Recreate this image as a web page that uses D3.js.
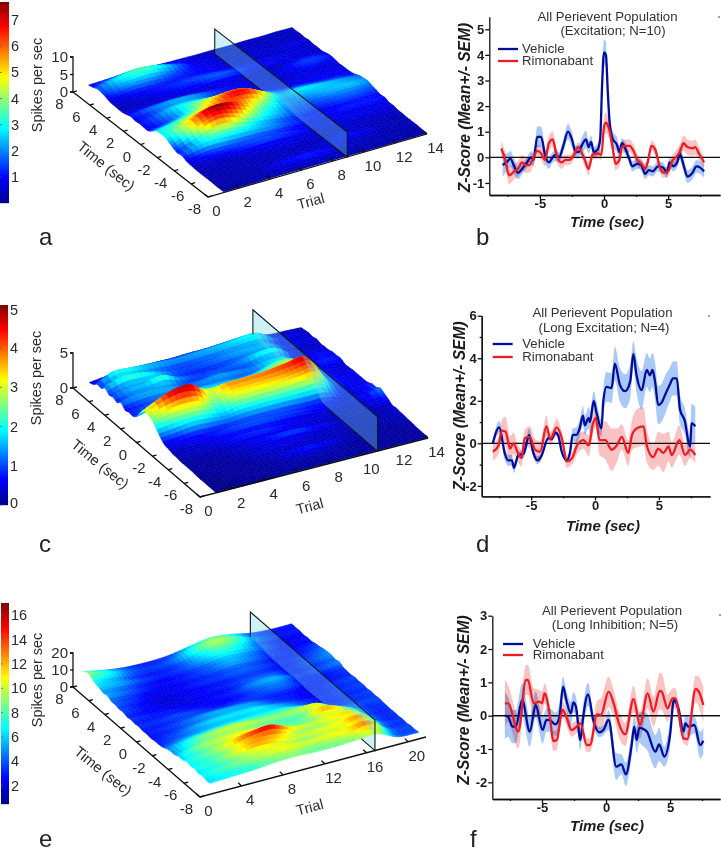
<!DOCTYPE html>
<html><head><meta charset="utf-8">
<style>html,body{margin:0;padding:0;background:#fff}svg{display:block}text{font-family:"Liberation Sans",Arial,sans-serif}</style>
<script src="https://cdn.jsdelivr.net/npm/d3@7"></script>
</head><body>
<script>
// ---------- data ----------
const surfaceTimes = [8,7.5,7,6.5,6,5.5,5,4.5,4,3.5,3,2.5,2,1.5,1,.5,0,-.5,-1,-1.5,-2,-2.5,-3,-3.5,-4,-4.5,-5,-5.5,-6,-6.5,-7,-7.5,-8];
const trialsAC = [1,2,3,4,5,6,7,8,9,10,11,12,13,14];
const trialsE = [1,3,5,7,9,11,13,15,17,19,21];
const ratesA = [
[.7,.8,.9,.9,.8,.7,.6,.5,.5,.4,.5,.4,.5,.4],
[1.0,1.8,2.4,2.6,2.0,1.2,.7,.5,.4,.4,.4,.4,.4,.4],
[1.5,2.6,3.3,3.6,3.0,1.9,.9,.7,.5,.5,.5,.5,.5,.5],
[1.4,2.2,2.6,2.7,2.2,1.5,.9,.7,.5,.4,.5,.4,.5,.4],
[1.1,1.6,1.9,1.8,1.5,1.2,1.0,.8,.6,.6,.7,.7,.8,.6],
[.6,.8,1.0,1.1,1.1,1.1,1.0,.8,.6,.5,.5,.5,.6,.4],
[.5,.6,.8,1.1,1.3,1.5,1.5,1.3,1.0,.9,.9,.8,.7,.5],
[.4,.5,.6,.8,1.0,1.1,1.6,1.6,1.2,.9,.8,.6,.5,.4],
[.4,.5,.5,.6,.6,.6,.7,.7,.6,.5,.5,.9,1.0,.7],
[.7,1.0,1.2,1.3,1.1,.9,.8,.7,.5,.5,.7,1.3,1.4,1.0],
[1.1,1.7,2.1,2.3,2.1,1.5,1.1,.9,.7,.6,.8,1.1,1.2,.9],
[.8,1.3,1.9,2.2,2.0,1.4,1.0,.8,.6,.5,.6,.7,.7,.6],
[1.0,1.6,2.6,2.9,2.7,2.0,1.4,1.0,.8,.7,.7,.8,.8,.7],
[.9,1.5,2.2,3.4,3.8,3.4,2.6,1.7,1.0,.8,.8,.8,.8,.7],
[.8,1.3,2.2,3.6,4.8,5.3,5.0,3.0,1.6,1.3,1.2,1.0,1.0,.8],
[1.6,2.2,3.0,4.2,5.4,6.4,6.0,3.9,2.1,2.1,1.9,1.6,1.4,1.1],
[2.6,3.2,4.0,4.8,5.8,6.8,6.5,4.5,2.4,2.8,2.7,2.4,2.1,1.7],
[2.8,3.6,5.0,6.0,6.2,6.0,5.0,3.4,2.0,2.3,2.4,2.4,2.2,1.9],
[2.8,4.0,6.0,7.5,7.3,5.8,4.0,3.0,2.0,1.8,2.2,2.4,2.5,2.1],
[2.2,3.8,5.8,7.0,6.4,4.8,3.2,2.4,1.6,1.4,1.6,1.8,1.8,1.6],
[1.5,3.0,5.0,6.0,5.0,3.6,2.8,2.2,1.4,1.2,1.3,1.5,1.5,1.3],
[1.0,2.2,3.4,3.8,3.4,2.6,2.0,1.4,1.0,.8,.9,1.0,1.0,.9],
[1.3,2.5,3.0,2.8,2.6,2.4,2.0,1.5,1.1,.9,1.1,1.2,1.2,1.1],
[.8,1.4,1.7,1.6,1.5,1.4,1.2,.9,.7,.6,.7,.7,.7,.6],
[.5,.8,1.0,1.3,1.5,1.6,1.4,1.1,.9,.8,.8,.8,.8,.7],
[.4,.5,.5,.6,.7,.8,.7,.6,.5,.5,.5,.5,.5,.4],
[.3,.4,.4,.5,.6,.7,.7,.6,.6,.5,.5,.5,.4,.4],
[.3,.3,.3,.4,.4,.4,.4,.4,.5,.6,.5,.4,.3,.3],
[.3,.3,.4,.4,.4,.5,.5,.5,.9,1.0,.8,.5,.4,.3],
[.3,.3,.3,.3,.5,.6,.7,.6,.5,.5,.4,.3,.3,.3],
[.2,.3,.3,.4,.8,1.1,1.2,1.0,.6,.5,.4,.3,.3,.3],
[.2,.2,.3,.3,.4,.5,.5,.4,.3,.3,.3,.3,.2,.2],
[.2,.2,.2,.3,.3,.3,.3,.3,.3,.2,.2,.2,.2,.2]];
const ratesC = [
[.2,.4,.4,.5,.6,.6,.7,.7,.8,.9,.9,.4,.3,.2],
[.4,1.2,1.3,1.3,1.2,1.1,1.2,1.3,1.5,1.7,1.7,.5,.4,.3],
[.9,2.1,2.0,1.7,1.5,1.4,1.5,1.6,1.7,1.9,1.9,.8,.5,.4],
[.8,1.6,1.6,1.3,1.0,.9,1.0,1.1,1.3,1.4,1.4,.5,.4,.3],
[1.3,2.2,2.2,1.8,1.2,1.0,1.1,1.3,1.5,1.6,1.6,.7,.5,.5],
[.8,1.3,1.4,1.6,1.0,.8,.8,.9,1.1,1.4,1.4,.4,.3,.3],
[1.0,1.6,1.7,2.3,1.4,1.0,1.0,1.1,1.4,2.0,2.0,.6,.4,.4],
[.7,1.2,1.3,1.4,1.0,.9,1.1,1.0,1.0,1.4,1.4,.4,.5,.4],
[1.2,1.5,1.6,1.5,1.2,1.3,1.5,1.4,1.3,1.7,1.7,.5,.7,.6],
[.6,.9,1.1,1.4,1.2,1.2,1.2,1.1,1.2,1.8,1.8,.5,.7,.6],
[.8,1.0,1.4,2.0,1.7,1.6,1.6,1.5,1.8,2.5,2.4,.8,.8,.7],
[.7,1.2,1.9,2.4,1.9,1.8,1.8,1.9,2.2,2.6,2.7,.7,.5,.4],
[1.2,1.8,2.8,3.2,2.6,2.3,2.4,2.6,2.9,3.2,3.4,1.2,.5,.4],
[2.3,3.3,4.2,4.4,3.0,3.2,3.3,3.4,3.6,3.9,4.1,1.3,.5,.5],
[2.9,4.1,4.8,4.6,2.8,3.7,3.8,3.9,4.1,4.4,4.6,1.3,.6,.5],
[2.7,3.5,3.9,3.7,2.5,3.3,3.4,3.5,3.6,3.9,4.0,1.2,.6,.5],
[2.4,2.8,3.0,2.9,2.1,2.9,3.0,3.1,3.2,3.4,3.5,1.1,.6,.5],
[1.7,2.0,2.2,2.1,1.7,2.1,2.2,2.3,2.3,2.4,2.4,.8,.5,.6],
[1.0,1.2,1.5,1.4,1.3,1.5,1.6,1.6,1.6,1.5,1.5,.7,.5,.9],
[.5,.6,.7,.7,.8,.9,.9,.9,.8,.7,.7,.4,.4,.9],
[.4,.5,.6,.8,1.0,1.1,1.1,1.0,.9,.7,.6,.4,.6,1.3],
[.2,.3,.4,.5,.6,.6,.6,.5,.4,.4,.3,.3,.4,1.0],
[.2,.3,.4,.6,.8,.9,.8,.6,.5,.4,.3,.3,.4,.7],
[.1,.2,.2,.3,.4,.5,.5,.5,.4,.3,.2,.2,.2,.3],
[.1,.1,.2,.3,.5,.7,1.0,1.0,.7,.5,.3,.2,.2,.4],
[.1,.1,.1,.2,.3,.4,.4,.4,.3,.3,.2,.2,.2,.3],
[.1,.1,.1,.2,.4,.5,.5,.4,.3,.3,.2,.2,.2,.3],
[0,.1,.1,.1,.2,.3,.3,.3,.3,.2,.1,.1,.1,.2],
[0,.1,.1,.1,.2,.4,.7,.8,.5,.3,.2,.1,.1,.2],
[0,0,.1,.1,.1,.2,.3,.3,.2,.1,.1,.1,.1,.1],
[0,0,.1,.1,.1,.2,.2,.2,.2,.1,.1,.1,.1,.1],
[0,0,0,.1,.1,.1,.1,.1,.1,.1,.1,.1,.1,.1],
[0,0,0,0,.1,.1,.1,.1,.1,.1,.1,.1,.1,.1]];
const ratesE = [
[7.5,5,3.5,3,3.5,5.5,7.5,6.5,4,3,3],
[9,6.5,4,3.2,4,7,9,7.5,4,2.8,2.8],
[8,6.5,4,3.5,4.5,7.5,9.5,8,4.5,3,3],
[6.5,5,3.2,2.8,3.5,6,8,6.5,3.5,2.3,2.5],
[6,5.5,3.8,3.2,3.8,5.5,7,6,3.8,2.5,3],
[5,4,2.8,2.4,3,4,5.5,4.5,3,2.2,2.8],
[5.5,4.2,3,2.8,3.2,4.2,5.5,4.6,3,2.8,3.5],
[4.2,3.2,2.2,2.2,2.8,3.2,4,3.5,2.5,2.8,3.8],
[4.2,3.2,2.2,2.6,3.2,3.6,4.2,3.8,2.8,3.2,4.5],
[3.6,2.6,1.8,2,2.5,2.8,3.4,3.2,2.5,3.4,4.8],
[3.8,2.8,2,2.3,2.8,3.2,3.8,3.8,2.8,3.8,5],
[3,2.5,2.2,2,2.4,2.8,4.2,4.4,2.6,3.2,4.2],
[3.4,3,2.8,2.4,2.8,3.3,5,5.5,3.2,3.8,5],
[3,2.8,3,2.6,2.4,2.8,4,4.5,2.5,2.8,3.6],
[3.3,3.4,3.8,3.3,2.8,3.2,3.8,4.2,2.8,2.8,3.4],
[2.8,3,3.5,3.8,3.8,3.6,3,2.8,2.2,2.8,3.2],
[3,3.4,4.4,5.4,5.4,5,3.4,2.9,2.4,3.3,3.8],
[2.6,3.2,4.2,5,5.4,5.2,3.8,2.8,2.3,3,3.4],
[3,3.8,5.4,6.4,6.5,6.5,5,3.4,2.8,3.3,3.8],
[3,4,5,5.6,5.8,6.2,5.5,3.8,2.6,3,3.2],
[3.4,5,6,6.8,7,7,7,5,2.8,3.3,3.8],
[4.5,6.5,7.8,8.5,8.2,8,8.2,7.5,3.5,3.2,3.4],
[5,7.6,9.4,10,9.6,9,9.6,10.5,5,3.8,3.8],
[5,7.5,8.8,9.2,8.5,7.8,8,10.5,6.5,3.5,3.4],
[6,9,10,10.5,10,8.5,8.5,12.5,9,3.8,3.3],
[6,7.8,9.5,11.5,11.5,8.8,8.5,10,9,3.5,3.2],
[7,8.5,11,14,15.5,11.2,10,11,11,4,3.4],
[6.5,7.5,9.5,12,12,9.5,9,10,10.5,3.8,3.2],
[7,8,10.5,12.8,11.5,10,10.5,11,12.5,4.5,3.5],
[6.2,7.2,8.8,10,9.8,9,9.5,10,11,4,3.2],
[6.8,8,9,10.2,11,10.2,10.8,11.5,13,4.6,3.8],
[6,6.8,7.5,8.5,9,8.5,8.8,9.5,10.5,4.2,3.6],
[6.5,7,7.5,8.5,9,8.5,8.5,9,9.5,4.5,4]];

const timeVehicleB = [-7.9,-7.6,-7.3,-7.0,-6.7,-6.3,-6.0,-5.7,-5.5,-5.2,-4.9,-4.6,-4.3,-4.0,-3.8,-3.5,-3.2,-2.8,-2.5,-2.2,-2.0,-1.7,-1.4,-1.2,-1.0,-0.8,-0.5,-0.3,-0.15,0,0.15,0.3,0.45,0.7,1.0,1.2,1.4,1.7,2.0,2.2,2.6,2.9,3.2,3.5,3.8,4.2,4.6,4.9,5.1,5.4,5.7,5.9,6.2,6.5,6.9,7.2,7.5,7.8];
const vehicleB = [-.3,-.2,-.05,-.35,-.6,-.4,-.2,0,-.1,.8,.8,.1,-.2,0,.1,0,.4,1.0,.7,.2,.2,.5,.7,.4,.6,.2,.3,.7,2.8,4.1,4.0,2.5,1.3,.7,.5,.2,.55,.3,-.1,-.35,-.25,-.3,-.65,-.5,-.55,-.35,-.4,-.6,-.2,-.35,-.2,.15,-.3,-.75,-.6,-.35,-.4,-.55];
const semVehicleB = [.45,.35,.3,.3,.25,.2,.2,.25,.25,.4,.4,.3,.25,.2,.25,.2,.25,.3,.3,.25,.25,.3,.35,.25,.25,.2,.25,.4,.4,.5,.5,.4,.3,.3,.3,.25,.2,.25,.2,.2,.2,.2,.2,.2,.2,.2,.2,.2,.2,.2,.2,.25,.25,.25,.25,.25,.25,.25];
const timeRimoB = [-8,-7.7,-7.4,-7.0,-6.7,-6.4,-6.1,-5.8,-5.5,-5.2,-4.9,-4.6,-4.3,-4.0,-3.7,-3.3,-3.0,-2.7,-2.4,-2.0,-1.8,-1.5,-1.2,-.9,-.5,-.2,0,.15,.4,.7,.9,1.2,1.4,1.7,2.0,2.3,2.6,3.0,3.2,3.4,3.7,4.0,4.3,4.6,5.0,5.3,5.6,5.9,6.2,6.5,6.9,7.1,7.4,7.8];
const rimoB = [.35,-.1,-.7,-.55,-.45,-.2,-.3,-.3,0,.25,.15,-.1,.55,.7,.1,-.2,-.1,-.1,.05,.4,.25,-.1,-.45,.1,.15,.1,1.2,1.35,1.1,.3,-.25,-.1,.4,.45,.45,.25,-.1,-.3,-.45,-.2,.45,.3,-.3,-.6,-.55,-.15,0,.2,.55,.4,.35,.4,.15,-.2];
const semRimoB = [.3,.3,.35,.3,.3,.3,.3,.3,.3,.25,.25,.25,.3,.3,.25,.25,.2,.2,.2,.2,.2,.25,.25,.2,.2,.2,.35,.4,.35,.3,.25,.25,.25,.25,.25,.25,.25,.2,.2,.2,.2,.2,.2,.2,.2,.2,.25,.3,.3,.3,.3,.3,.25,.2];

const timeVehicleD = [-8,-7.5,-7.05,-6.8,-6.5,-6.35,-6,-5.6,-5.15,-4.85,-4.5,-4.2,-3.65,-3.4,-3.1,-2.9,-2.6,-2.2,-1.95,-1.75,-1.45,-1.2,-.95,-.8,-.5,-.4,-.1,.1,.5,.65,.9,1.3,1.55,1.95,2.35,2.75,3,3.25,3.65,4.05,4.3,4.5,4.7,4.95,5.2,5.5,5.85,6.1,6.4,6.65,7.05,7.3,7.45,7.55,7.85];
const vehicleD = [0,.75,-.5,-.8,-.8,-1.15,-.55,-.5,.4,-.4,-.8,-.6,.25,.2,.5,.4,-.4,-.8,-.4,.4,.4,.7,1.3,.85,1.2,1,2,1.5,.7,2,2.65,2.6,3.75,2.75,2.45,2.9,4.2,3.2,2.5,3.45,3.2,3.45,2.9,1.8,1.9,2.3,2.75,3.05,3.05,1.6,1,.1,-.15,.95,.8];
const semVehicleD = [.1,.3,.3,.25,.25,.25,.15,.2,.3,.2,.2,.15,.1,.1,.1,.1,.1,.1,.15,.3,.35,.4,.45,.45,.5,.5,.45,.5,.4,.6,.7,.7,.8,.8,.8,.8,.6,.8,.9,.8,.8,.8,.9,.9,.9,.9,.8,.8,.8,.7,.6,.6,.5,.9,.9];
const timeRimoD = [-8,-7.55,-7.3,-7,-6.65,-6.4,-6,-5.75,-5.5,-5.1,-4.7,-4.3,-3.8,-3.5,-3,-2.6,-2.2,-1.8,-1.4,-.9,-.5,-.15,.05,.35,.8,1.3,1.7,2.1,2.6,2.9,3.25,3.8,4.05,4.55,4.95,5.35,5.75,6,6.6,7.05,7.45,7.85];
const rimoD = [-.4,-.1,.6,.55,-.25,0,-.5,-.7,.25,.3,-.3,-.4,.8,.2,.75,.25,-.85,-.7,-.1,.15,-.1,.95,1.2,.15,.15,-.3,-.1,.3,-.45,.4,.7,.8,-.1,-.65,-.25,-.45,-.15,-.55,.15,-.55,-.3,-.55];
const semRimoD = [.4,.4,.5,.7,.6,.5,.4,.4,.4,.5,.5,.5,.5,.3,.4,.3,.3,.3,.4,.4,.5,.5,.4,.7,.9,1,.8,.6,.6,.7,.9,.9,.8,.6,.8,.9,.7,.6,.7,.5,.4,.4];

const timeVehicleF = [-7.9,-7.65,-7.3,-7.05,-6.55,-5.95,-5.5,-4.95,-4.65,-4.4,-3.95,-3.65,-3.35,-3.1,-2.75,-2.55,-2.35,-2,-1.8,-1.4,-1,-.5,-.2,.2,.8,1.2,1.55,2,2.2,2.4,2.6,2.8,3.2,3.85,4.15,4.55,5,5.3,5.65,6.05,6.2,6.45,6.9,7.35,7.6];
const vehicleF = [0,-.03,-.33,-.33,.47,-.48,.32,-.43,-.13,-.13,-.26,-.06,.87,.47,.07,.4,.27,-.73,-.08,.64,-.13,-.5,-.43,-.13,-1.53,-1.46,-1.76,-.88,-.33,-.73,-.36,-.38,-.48,-1.08,-.86,-1.23,-.58,.47,.22,-.48,-.23,-.33,-.28,-.88,-.75];
const semVehicleF = [.7,.6,.5,.5,.5,.45,.4,.4,.35,.35,.35,.4,.3,.3,.35,.3,.3,.3,.35,.35,.2,.15,.15,.3,.4,.3,.35,.35,.35,.4,.45,.5,.55,.5,.5,.3,.4,.1,.2,.25,.25,.3,.25,.4,.4];
const timeRimoF = [-7.9,-7.65,-6.85,-6.25,-6.1,-5.65,-5.2,-5,-4.8,-4.45,-4.1,-3.85,-3.4,-3.1,-2.7,-2.3,-2,-1.5,-1.25,-.7,-.4,.2,.6,1,1.5,2.15,2.65,3.25,3.7,4.2,4.35,4.8,5.2,5.4,6.05,6.35,7,7.25,7.6];
const rimoF = [.37,.37,-.48,1.07,1.07,.37,.42,.37,.67,.17,-.76,-.73,.17,-.03,-.43,-.33,-.23,-.88,-.88,.04,.02,.72,.37,-.23,-.56,.5,-.28,.67,.12,.74,.72,.22,.52,.52,-.68,-.7,.8,.72,.32];
const semRimoF = [.7,.55,.5,.45,.45,.45,.35,.35,.3,.3,.3,.3,.25,.25,.2,.2,.2,.2,.2,.4,.5,.45,.4,.4,.35,.4,.4,.45,.45,.55,.55,.4,.3,.3,.15,.2,.4,.45,.55];

const timeTicks = [8,6,4,2,0,-2,-4,-6,-8];
const trialTicksAC = [0,2,4,6,8,10,12,14];
const trialTicksE = [0,4,8,12,16,20];

// ---------- drawing ----------
const W = 721, H = 853;
const svg = d3.select("body").append("svg").attr("width",W).attr("height",H).attr("viewBox",[0,0,W,H]);
const defs = svg.append("defs");
defs.append("filter").attr("id","soft").attr("x","-5%").attr("y","-5%").attr("width","110%").attr("height","110%").append("feGaussianBlur").attr("stdDeviation",.55);
defs.append("filter").attr("id","page").attr("filterUnits","userSpaceOnUse").attr("x",0).attr("y",0).attr("width",W).attr("height",H).append("feGaussianBlur").attr("stdDeviation",.3);
const root = svg.append("g").attr("filter","url(#page)");
const INK = "#2b2b2b";

const jet = d3.scaleLinear().domain([0,.125,.375,.625,.875,1])
  .range(["#00008f","#0000ff","#00ffff","#ffff00","#ff0000","#800000"]).clamp(true);

function cr(p0,p1,p2,p3,u){ return .5*(2*p1+(p2-p0)*u+(2*p0-5*p1+4*p2-p3)*u*u+(3*p1-p0-3*p2+p3)*u*u*u); }
function smooth1(a,f){ const o=[]; const n=a.length;
  for(let i=0;i<n-1;i++) for(let k=0;k<f;k++){ o.push(cr(a[Math.max(i-1,0)],a[i],a[i+1],a[Math.min(i+2,n-1)],k/f)); }
  o.push(a[n-1]); return o; }
function transpose(m){ return m[0].map((_,j)=>m.map(r=>r[j])); }

function surface(c){
  const g = root.append("g");
  const timeX = d3.scaleLinear().domain([-8,8]).range([c.o[0],c.b[0]]);
  const timeY = d3.scaleLinear().domain([-8,8]).range([c.o[1],c.b[1]]);
  const trialX = d3.scaleLinear().domain([0,c.maxTrial]).range([0,c.e[0]-c.o[0]]);
  const trialY = d3.scaleLinear().domain([0,c.maxTrial]).range([0,c.e[1]-c.o[1]]);
  const zPx = d3.scaleLinear().domain([0,c.zMax]).range([0,c.zLen]);
  const P = (n,t,z)=>[timeX(t)+trialX(n), timeY(t)+trialY(n)-zPx(z)];
  const col = v=>jet((v-c.cMin)/(c.cMax-c.cMin));

  const fT=c.fTime, fN=c.fTrial;
  let m = c.rates.map(r=>smooth1(r,fN));
  m = transpose(transpose(m).map(r=>smooth1(r,fT)));
  const ts = smooth1(c.times,fT), ns = smooth1(c.trials,fN);
  const surf = g.append("g").attr("filter","url(#soft)");
  const line = d3.line();
  function cell(i,j){
    const v=[m[i][j],m[i+1][j],m[i+1][j+1],m[i][j+1]];
    const q=[P(ns[j],ts[i],v[0]),P(ns[j],ts[i+1],v[1]),P(ns[j+1],ts[i+1],v[2]),P(ns[j+1],ts[i],v[3])];
    const k=col(d3.mean(v));
    surf.append("path").attr("d",line(q)+"Z").attr("fill",k).attr("stroke",k).attr("stroke-width",.6);
  }
  let planeDone=false;
  function plane(){
    const pts=[P(c.plane.trial,c.plane.t0,0),P(c.plane.trial,c.plane.t1,0),P(c.plane.trial,c.plane.t1,c.plane.z),P(c.plane.trial,c.plane.t0,c.plane.z)];
    surf.append("path").attr("d",line(pts)+"Z").attr("fill","#78d7e6").attr("fill-opacity",.36).attr("stroke","#0c1c20").attr("stroke-width",1.1);
  }
  for(let j=ns.length-2;j>=0;j--){
    if(!planeDone && ns[j+1]<=c.plane.trial){ plane(); planeDone=true; }
    for(let i=0;i<ts.length-1;i++) cell(i,j);
  }

  const ax = g.append("g").attr("stroke","#111").attr("stroke-width",1.3).attr("fill","none");
  ax.append("path").attr("d",line([P(0,8,0),P(0,-8,0),P(c.maxTrial,-8,0)]));
  ax.append("path").attr("d",line([[P(0,8,0)[0]-3,P(0,8,c.zMax)[1]],P(0,8,c.zMax),P(0,8,0),[P(0,8,0)[0]-3,P(0,8,0)[1]]]));
  c.zTicks.forEach(z=>{ const p=P(0,8,z); ax.append("path").attr("d",line([[p[0]-3,p[1]],p])); });
  timeTicks.forEach(t=>{ const a=P(0,t,0);
    ax.append("path").attr("d",line([a,[a[0]+(c.e[0]-c.o[0])*.018,a[1]+(c.e[1]-c.o[1])*.018]])); });
  c.trialTicks.forEach(n=>{ const a=P(n,-8,0);
    ax.append("path").attr("d",line([a,[a[0]+(c.b[0]-c.o[0])*.028,a[1]+(c.b[1]-c.o[1])*.028]])); });

  const lab=(x,y,s,size,anchor)=>g.append("text").attr("x",x).attr("y",y).attr("fill",INK).attr("font-size",size).attr("text-anchor",anchor||"middle").text(s);
  timeTicks.forEach(t=>{ const p=P(0,t,0); lab(p[0]-13.5,p[1]+17,t,15); });
  c.trialTicks.forEach(n=>{ const p=P(n,-8,0); lab(p[0]+8.5,p[1]+19,n,15); });
  c.zLabels.forEach(z=>{ const p=P(0,8,z); lab(p[0]-5,p[1]+5,z,15,"end"); });
  const rot=(x,y,a,s,size)=>g.append("text").attr("transform",`translate(${x},${y}) rotate(${a})`).attr("fill",INK).attr("font-size",size).attr("text-anchor","middle").text(s);
  rot(c.timeLab[0],c.timeLab[1],39,"Time (sec)",14.7);
  rot(c.trialLab[0],c.trialLab[1],-15,"Trial",14.5);
  rot(c.spikeLab[0],c.spikeLab[1],-90,"Spikes per sec",14.4);

  const barH = c.bar.y1-c.bar.y0;
  const barScale = d3.scaleLinear().domain([c.cMin,c.cMax]).range([c.bar.y1,c.bar.y0]);
  const cb = g.append("g");
  d3.range(0,barH,1).forEach(i=>{ cb.append("rect").attr("x",c.bar.x).attr("width",c.bar.w).attr("y",c.bar.y1-i-1).attr("height",1.2).attr("fill",jet(i/barH)); });
  c.barTicks.forEach(v=>{
    cb.append("line").attr("x1",c.bar.x).attr("x2",c.bar.x+2).attr("y1",barScale(v)).attr("y2",barScale(v)).attr("stroke","#556").attr("stroke-width",.7);
    lab(c.bar.x+c.bar.w+2,Math.min(Math.max(barScale(v)+5,c.bar.y0+10),c.bar.y1+3),v,14.5,"start");
  });
  g.append("text").attr("x",c.letter[0]).attr("y",c.letter[1]).attr("font-size",24).attr("fill","#222").text(c.name);
}

surface({name:"a",rates:ratesA,times:surfaceTimes,trials:trialsAC,fTime:2,fTrial:3,maxTrial:14,
  o:[208,197],b:[73,92],e:[427,134],zMax:10,zLen:35,zTicks:[0,5,10],zLabels:[0,5,10],trialTicks:trialTicksAC,
  cMin:0,cMax:7.7,plane:{trial:8.9,t0:-8,t1:7.7,z:7.1},timeLab:[103,170],trialLab:[312,206],spikeLab:[42,85],
  bar:{x:0,w:9,y0:2,y1:203},barTicks:[1,2,3,4,5,6,7],letter:[39,245]});
surface({name:"c",rates:ratesC,times:surfaceTimes,trials:trialsAC,fTime:2,fTrial:3,maxTrial:14,
  o:[200,497],b:[73,388],e:[428,438],zMax:5,zLen:35,zTicks:[0,5],zLabels:[0,5],trialTicks:trialTicksAC,
  cMin:0,cMax:5.1,plane:{trial:10.9,t0:-8,t1:7.7,z:4.9},timeLab:[97,468],trialLab:[311,511],spikeLab:[41,378],
  bar:{x:0,w:8,y0:305,y1:505},barTicks:[0,1,2,3,4,5],letter:[39,552]});
surface({name:"e",rates:ratesE,times:surfaceTimes,trials:trialsE,fTime:2,fTrial:5,maxTrial:21.7,
  o:[200,797],b:[73,687],e:[426,737],zMax:20,zLen:34,zTicks:[0,10,20],zLabels:[0,10,20],trialTicks:trialTicksE,
  cMin:.5,cMax:17,plane:{trial:16.8,t0:-8,t1:7.7,z:18},timeLab:[100,775],trialLab:[311,812],spikeLab:[42,680],
  bar:{x:1,w:8,y0:603,y1:804},barTicks:[2,4,6,8,10,12,14,16],letter:[39,847]});

function chart(c){
  const g = root.append("g");
  const x = d3.scaleLinear().domain(c.xd).range([c.l,c.r]);
  const y = d3.scaleLinear().domain(c.yd).range([c.b,c.t]);
  const band = (ts,vs,se,fill,op)=>g.append("path")
    .attr("d",d3.area().x((d,i)=>x(ts[i])).y0((d,i)=>y(vs[i]-se[i])).y1((d,i)=>y(vs[i]+se[i])).curve(d3.curveMonotoneX)(vs))
    .attr("fill",fill).attr("fill-opacity",op).style("mix-blend-mode","multiply");
  band(c.tv,c.v,c.sv,"#a6c6f6",.95);
  band(c.tr,c.rr,c.sr,"#f9bdbd",.9);
  g.append("line").attr("x1",c.l).attr("x2",c.r).attr("y1",y(0)).attr("y2",y(0)).attr("stroke","#111").attr("stroke-width",1.4);
  const ln = (ts,vs,col)=>g.append("path").attr("d",d3.line().x((d,i)=>x(ts[i])).y(d=>y(d)).curve(d3.curveMonotoneX)(vs))
    .attr("fill","none").attr("stroke",col).attr("stroke-width",2.3).attr("stroke-linejoin","round");
  ln(c.tv,c.v,"#00109a");
  ln(c.tr,c.rr,"#ee1c25");

  const fmt = d=>String(d);
  const axX = g.append("g").attr("transform",`translate(0,${c.b})`).call(d3.axisBottom(x).tickValues([-5,0,5]).tickSize(4).tickPadding(0).tickSizeOuter(0).tickFormat(fmt));
  g.append("g").attr("transform",`translate(0,${c.b})`).call(d3.axisBottom(x).tickValues([-7.5,-2.5,2.5,7.5]).tickSize(2).tickSizeOuter(0).tickFormat(""));
  const axY = g.append("g").attr("transform",`translate(${c.l},0)`).call(d3.axisLeft(y).tickValues(c.yt).tickSize(4).tickPadding(1).tickSizeOuter(0).tickFormat(fmt));
  if(c.ym) g.append("g").attr("transform",`translate(${c.l},0)`).call(d3.axisLeft(y).tickValues(c.ym).tickSize(2).tickSizeOuter(0).tickFormat(""));
  g.selectAll(".domain,.tick line").attr("stroke","#111").attr("stroke-width",1.3);
  g.selectAll(".tick text").attr("fill","#1a1a1a").attr("font-size",13).attr("font-weight","bold").attr("font-family","Liberation Sans");

  const t=(px,py,s,o={})=>g.append("text").attr("x",px).attr("y",py).attr("fill",o.fill||"#333").attr("font-size",o.size||13.2).attr("text-anchor",o.a||"middle")
    .attr("font-weight",o.w||"normal").attr("font-style",o.st||"normal").text(s);
  t(c.title[0],c.title[1],"All Perievent Population");
  t(c.title2[0],c.title2[1],c.sub);
  const L=c.legend;
  g.append("line").attr("x1",L[0]).attr("x2",L[0]+20).attr("y1",L[1]).attr("y2",L[1]).attr("stroke","#00109a").attr("stroke-width",2.3);
  g.append("line").attr("x1",L[0]).attr("x2",L[0]+20).attr("y1",L[2]).attr("y2",L[2]).attr("stroke","#ee1c25").attr("stroke-width",2.3);
  t(L[3],L[1]+4,"Vehicle",{a:"start"});
  t(L[3],L[2]+4,"Rimonabant",{a:"start"});
  t(c.xlab[0],c.xlab[1],"Time (sec)",{size:15,w:"bold",st:"italic",fill:"#1a1a1a"});
  g.append("text").attr("transform",`translate(${c.ylab[0]},${c.ylab[1]}) rotate(-90)`).attr("text-anchor","middle").attr("font-size",15.6).attr("font-weight","bold").attr("font-style","italic").attr("fill","#1a1a1a").text("Z-Score (Mean+/- SEM)");
  g.append("text").attr("x",c.letter[0]).attr("y",c.letter[1]).attr("font-size",24).attr("fill","#222").text(c.name);
  g.append("line").attr("x1",c.mark[0]).attr("x2",c.mark[0]+2).attr("y1",c.mark[1]).attr("y2",c.mark[1]).attr("stroke","#444");
}
chart({name:"b",l:489.3,r:720,xd:[-8.94,9.04],t:16.7,b:195,yd:[-1.47,5.49],yt:[-1,0,1,2,3,4,5],
  tv:timeVehicleB,v:vehicleB,sv:semVehicleB,tr:timeRimoB,rr:rimoB,sr:semRimoB,
  title:[607.5,21],title2:[613,35],sub:"(Excitation; N=10)",legend:[498,49,61,522],xlab:[607,227],ylab:[470,107.5],letter:[476,245],mark:[718,17]});
chart({name:"d",l:481.7,r:710,xd:[-8.87,9],t:315.7,b:496.3,yd:[-2.49,6],yt:[-2,0,2,4,6],ym:[-1,1,3,5],
  tv:timeVehicleD,v:vehicleD,sv:semVehicleD,tr:timeRimoD,rr:rimoD,sr:semRimoD,
  title:[602.5,317],title2:[604,332],sub:"(Long Excitation; N=4)",legend:[492.7,344,357,522.3],xlab:[603,531],ylab:[465,406],letter:[476,552],mark:[708,316]});
chart({name:"f",l:492.3,r:720,xd:[-8.88,8.9],t:615.7,b:799,yd:[-2.5,3],yt:[-2,-1,0,1,2,3],
  tv:timeVehicleF,v:vehicleF,sv:semVehicleF,tr:timeRimoF,rr:rimoF,sr:semRimoF,
  title:[612,615],title2:[615,629],sub:"(Long Inhibition; N=5)",legend:[503,644,655,532.7],xlab:[607,831],ylab:[469,700],letter:[470,847],mark:[719,615]});
</script>
</body></html>
